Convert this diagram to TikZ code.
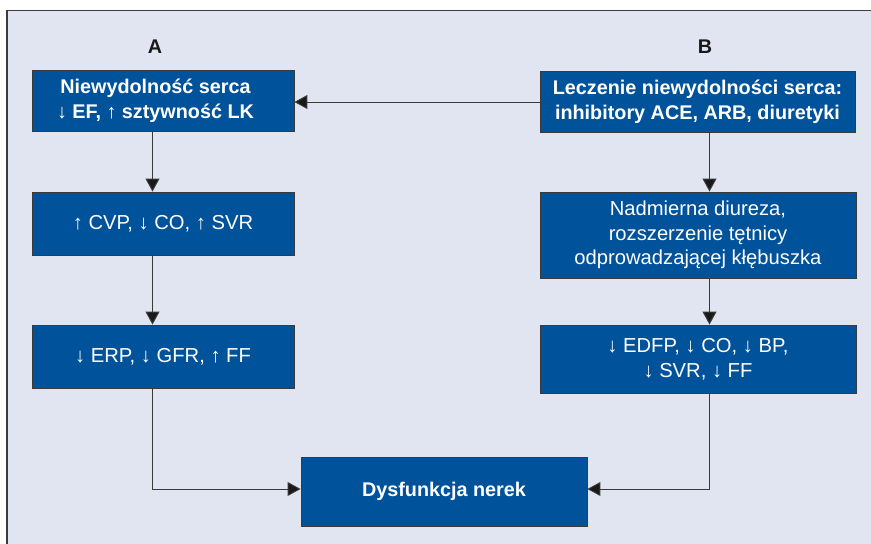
\documentclass[tikz,border=0pt]{standalone}
\usepackage{fontspec}
\setmainfont{Liberation Sans}
\usetikzlibrary{arrows.meta}
\definecolor{panel}{HTML}{E1E4F1}
\definecolor{boxblue}{HTML}{00529A}
\definecolor{edge}{HTML}{3A3A3A}
\tikzset{
  bx/.style={draw=edge, line width=0.9pt, fill=boxblue, text=white, align=center,
    inner sep=0pt, font=\fontsize{20.2}{24.5}\selectfont},
  bbx/.style={bx, font=\fontsize{19.8}{25}\selectfont\bfseries},
  btxt/.style={text=white, align=center, inner sep=0pt, font=\fontsize{19.8}{25}\selectfont\bfseries},
  conn/.style={draw=edge, line width=1pt, -{Triangle[length=13pt,width=14pt,fill=black!90]}},
  lbl/.style={font=\fontsize{19.8}{22}\selectfont\bfseries, text=black!90}
}
\begin{document}
\begin{tikzpicture}[x=1pt,y=-1pt]
\useasboundingbox (0,0) rectangle (871,544);
\fill[white] (0,0) rectangle (871,544);
\fill[panel] (7,10.5) rectangle (871,544);
\draw[edge, line width=1.4pt] (7,544) -- (7,10.5) -- (871,10.5);

\node[lbl] (la) at (155,47) {A};
\node[lbl] (lb) at (705,47) {B};

\node[bbx, minimum width=262, minimum height=61] (b1) at (163,100.5) {};
\node[btxt] (b1t) at (155.5,100.5) {Niewydolność serca\\↓ EF, ↑ sztywność LK};
\node[bbx, minimum width=315, minimum height=61] (b2) at (697.5,101.5)
  {Leczenie niewydolności serca:\\inhibitory ACE, ARB, diuretyki};
\node[bx, minimum width=262, minimum height=63] (b3) at (163,223.5)
  {↑ CVP, ↓ CO, ↑ SVR};
\node[bx, minimum width=262, minimum height=63] (b4) at (163,356.5)
  {↓ ERP, ↓ GFR, ↑ FF};
\node[bx, minimum width=316, minimum height=86] (b5) at (698,235)
  {Nadmierna diureza,\\rozszerzenie tętnicy\\odprowadzającej kłębuszka};
\node[bx, minimum width=316, minimum height=68] (b6) at (698,359)
  {↓ EDFP, ↓ CO, ↓ BP,\\↓ SVR, ↓ FF};
\node[bbx, minimum width=286, minimum height=69] (b7) at (444,491.5)
  {Dysfunkcja nerek};

\coordinate (xl) at (152.5,0);
\coordinate (xr) at (709.5,0);

\draw[conn] (b2.west |- 0,102) -- (b1.east |- 0,102);
\draw[conn] (b1.south -| xl) -- (b3.north -| xl);
\draw[conn] (b3.south -| xl) -- (b4.north -| xl);
\draw[conn] (b2.south -| xr) -- (b5.north -| xr);
\draw[conn] (b5.south -| xr) -- (b6.north -| xr);
\draw[conn] (b4.south -| xl) |- (b7.west |- 0,489);
\draw[conn] (b6.south -| xr) |- (b7.east |- 0,489);
\end{tikzpicture}
\end{document}
